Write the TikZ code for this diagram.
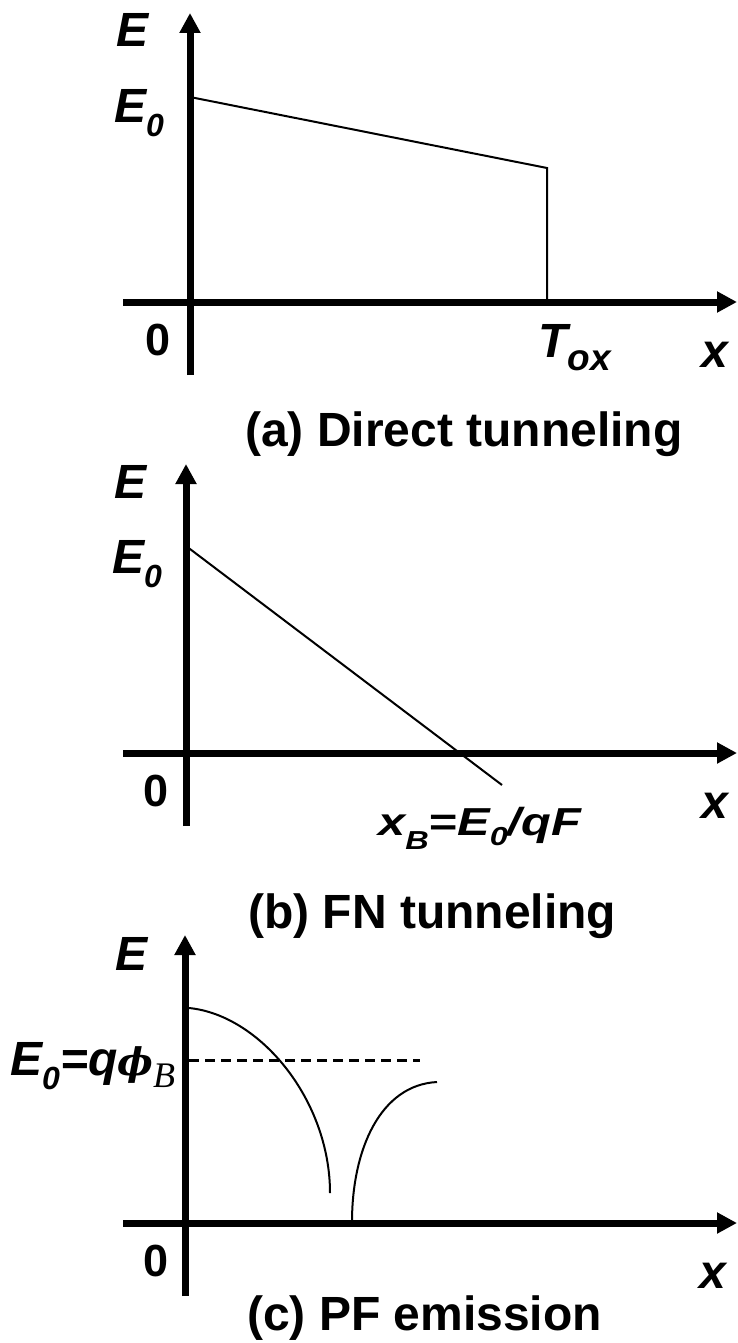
\documentclass[tikz,border=0pt]{standalone}
\usepackage{fontspec}
\setmainfont{Liberation Sans}
\newfontfamily\dvserif{DejaVu Serif}
\newfontfamily\libserif{Liberation Serif}
\usetikzlibrary{arrows.meta}
\newcommand\lblfont{\fontsize{48}{50}\selectfont\bfseries\itshape}
\newcommand\numfont{\fontsize{45}{50}\selectfont\bfseries}
\newcommand\capfont{\fontsize{48}{52}\selectfont\bfseries}
\newcommand\subsfont{\fontsize{32}{34}\selectfont\bfseries\itshape}
\begin{document}
\begin{tikzpicture}[x=1pt,y=-1pt,
  axis/.style={line width=7pt,-{Triangle[length=20pt,width=20pt]}},
  thinline/.style={line width=2pt},
  dashline/.style={line width=3pt,dash pattern=on 10pt off 6pt},
  lbl/.style={inner sep=0pt,anchor=base west,font=\lblfont},
  num/.style={inner sep=0pt,anchor=base west,font=\numfont},
  captxt/.style={inner sep=0pt,anchor=base west,font=\capfont}]
\useasboundingbox (0,0) rectangle (737,1343);
% ---------- panel (a)
\coordinate (a-yb) at (190,375);
\coordinate (a-yt) at (190,13);
\coordinate (a-xl) at (123,302);
\coordinate (a-xr) at (737,302);
\coordinate (a-p0) at (190,97);
\coordinate (a-p1) at (547,168);
\coordinate (a-p2) at (547,302);
\draw[axis] (a-yb) -- (a-yt);
\draw[axis] (a-xl) -- (a-xr);
\draw[thinline] (a-p0) -- (a-p1) -- (a-p2);
\node[lbl] (a-E) at (116,47) {E};
\node[lbl] (a-E0) at (114,123) {E\raisebox{-14pt}{\subsfont 0}};
\node[num] (a-0) at (145,355) {0};
\node[lbl] (a-tox) at (538,357) {T\raisebox{-13pt}{\fontsize{37}{40}\selectfont ox}};
\node[lbl] (a-x) at (701,367) {x};
\node[captxt] (a-cap) at (245,446) {(a) Direct tunneling};
% ---------- panel (b)
\coordinate (b-yb) at (186,826);
\coordinate (b-yt) at (186,464);
\coordinate (b-xl) at (123,753);
\coordinate (b-xr) at (737,753);
\coordinate (b-p0) at (186,546);
\coordinate (b-p1) at (502,785);
\draw[axis] (b-yb) -- (b-yt);
\draw[axis] (b-xl) -- (b-xr);
\draw[thinline] (b-p0) -- (b-p1);
\node[lbl] (b-E) at (114,498) {E};
\node[lbl] (b-E0) at (112,573) {E\raisebox{-14pt}{\subsfont 0}};
\node[num] (b-0) at (143,806) {0};
\node[lbl] (b-x) at (701,818) {x};
\node[inner sep=0pt,anchor=base west,font=\fontsize{39}{42}\selectfont\bfseries\itshape] (b-xb) at (378,835)
  {\scalebox{1.25}[1]{x\raisebox{-14pt}{\fontsize{26}{28}\selectfont B}=E\raisebox{-10pt}{\fontsize{26}{28}\selectfont 0}/qF}};
\node[captxt] (b-cap) at (248,928) {(b) FN tunneling};
% ---------- panel (c)
\coordinate (c-yb) at (185,1296);
\coordinate (c-yt) at (185,935);
\coordinate (c-xl) at (123,1223);
\coordinate (c-xr) at (737,1223);
\coordinate (c-c1a) at (189,1008);
\coordinate (c-c1b) at (330,1193);
\coordinate (c-c2a) at (352,1222);
\coordinate (c-c2b) at (437,1082);
\coordinate (c-d0) at (189,1060);
\coordinate (c-d1) at (420,1060);
\draw[axis] (c-yb) -- (c-yt);
\draw[axis] (c-xl) -- (c-xr);
\draw[thinline] (c-c1a) .. controls (260,1015) and (330,1100) .. (c-c1b);
\draw[thinline] (c-c2a) .. controls (352,1150) and (380,1085) .. (c-c2b);
\draw[dashline] (c-d0) -- (c-d1);
\node[lbl] (c-E) at (115,970) {E};
\node[lbl] (c-E0) at (10,1075) {E\raisebox{-14pt}{\subsfont 0}=q{\dvserif\fontsize{38}{42}\selectfont\bfseries\itshape ϕ}\raisebox{-12pt}{\libserif\fontsize{36}{40}\selectfont\mdseries\itshape B}};
\node[num] (c-0) at (143,1276) {0};
\node[lbl] (c-x) at (699,1288) {x};
\node[captxt] (c-cap) at (247,1330) {(c) PF emission};
\end{tikzpicture}
\end{document}
